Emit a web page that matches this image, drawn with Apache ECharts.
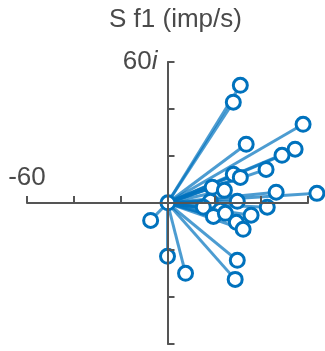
<!DOCTYPE html>
<html>
<head>
<meta charset="utf-8">
<script src="https://cdn.jsdelivr.net/npm/echarts@6/dist/echarts.min.js"></script>
<style>
  html, body { margin: 0; padding: 0; background: #fff; }
  #chart { width: 325px; height: 351px; }
</style>
</head>
<body>
<div id="chart"></div>
<script>
// Complex responses: real part (x) and imaginary part (y), imp/s
const realParts = [31.1, 28.1, 57.9, 33.6, 54.5, 48.9, 42.1, 28.1, 31.1, 19.1,
                   24.3, 46.4, 63.8, 18.3, 29.8, 15.3, 22.6, 42.6, 35.7, 19.6,
                   24.7, 29.4, 32.3, -7.2, 0.2, 0.0, 7.7, 29.8, 28.9];
const imagParts = [50.1, 42.9, 33.5, 25.0, 22.9, 20.3, 14.3, 12.2, 10.9, 6.7,
                   5.4, 4.6, 4.1, 0.7, 0.7, -1.8, -3.1, -1.8, -5.2, -5.7,
                   -4.4, -8.2, -11.2, -7.4, 0.1, -22.7, -29.9, -24.4, -32.5];
const axisTicks = [-60, -40, -20, 0, 20, 40, 60];
const realLabel = '-60';
const imagLabel = '60';
const chartTitle = 'S f1 (imp/s)';

const points = realParts.map((x, i) => [x, imagParts[i]]);
const spokes = points.map(p => ({ coords: [[0, 0], p] }));

const axisColor = '#555555';
const textColor = '#4a4a4a';
const fontFamily = 'Liberation Sans, Arial, Helvetica, sans-serif';

const chart = echarts.init(document.getElementById('chart'), null, { renderer: 'canvas' });

function axisOption() {
  return {
    type: 'value',
    min: axisTicks[0],
    max: axisTicks[axisTicks.length - 1],
    interval: 20,
    z: 10,
    axisLine: { onZero: true, lineStyle: { color: axisColor, width: 2 } },
    axisTick: { show: true, inside: true, length: 7, lineStyle: { color: axisColor, width: 2 } },
    splitLine: { show: false },
    axisLabel: { show: false }
  };
}

chart.setOption({
  animation: false,
  backgroundColor: '#ffffff',
  grid: { left: 27, right: 17, top: 62, bottom: 7, containLabel: false, outerBoundsMode: 'none' },
  xAxis: axisOption(),
  yAxis: axisOption(),
  series: [
    {
      type: 'lines',
      coordinateSystem: 'cartesian2d',
      data: spokes,
      z: 2,
      clip: false,
      lineStyle: { color: '#0072BD', width: 3, opacity: 0.7 },
      silent: true
    },
    {
      type: 'scatter',
      data: points,
      z: 3,
      clip: false,
      symbol: 'circle',
      symbolSize: 14,
      itemStyle: { color: '#ffffff', borderColor: '#0072BD', borderWidth: 3, opacity: 1 },
      silent: true
    }
  ]
});

// Axis end labels sit at the ends of the zero-crossing axes
const leftEnd = chart.convertToPixel({ gridIndex: 0 }, [axisTicks[0], 0]);
const topEnd = chart.convertToPixel({ gridIndex: 0 }, [0, axisTicks[axisTicks.length - 1]]);
const gridMid = chart.convertToPixel({ gridIndex: 0 }, [0, 0]);

chart.setOption({
  graphic: [
    {
      type: 'text',
      x: gridMid[0] + 8,
      y: 7,
      z: 100,
      style: {
        text: chartTitle,
        fill: textColor,
        font: '26px ' + fontFamily,
        align: 'center',
        verticalAlign: 'top'
      }
    },
    {
      type: 'text',
      x: leftEnd[0],
      y: leftEnd[1] - 12,
      z: 100,
      style: {
        text: realLabel,
        fill: textColor,
        font: '26px ' + fontFamily,
        align: 'center',
        verticalAlign: 'bottom'
      }
    },
    {
      type: 'text',
      x: topEnd[0] - 10,
      y: topEnd[1],
      z: 100,
      style: {
        text: '{n|' + imagLabel + '}{i|i}',
        align: 'right',
        verticalAlign: 'middle',
        rich: {
          n: { fontSize: 26, fontFamily: fontFamily, fill: textColor, color: textColor },
          i: { fontSize: 26, fontFamily: fontFamily, fontStyle: 'italic', fill: textColor, color: textColor }
        }
      }
    }
  ]
});
</script>
</body>
</html>
